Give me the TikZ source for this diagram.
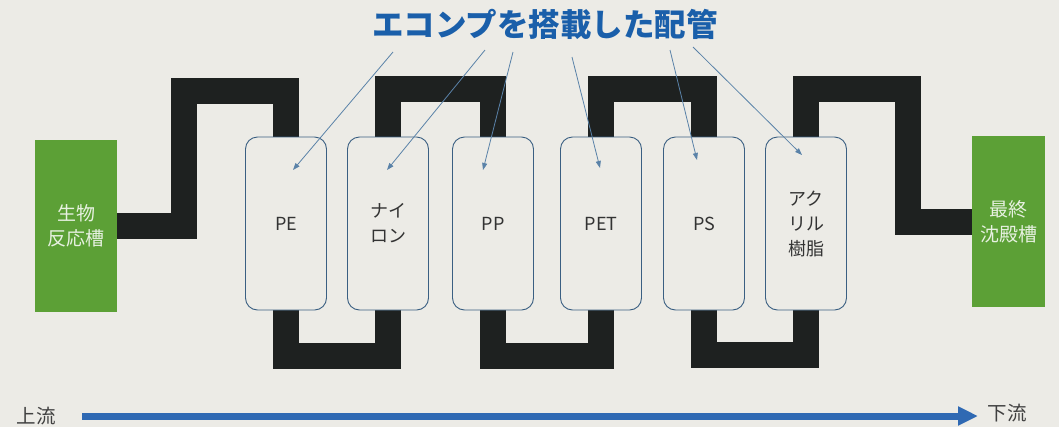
\documentclass[tikz,border=0pt]{standalone}
\usepackage{fontspec}
\setmainfont{Noto Sans CJK JP}
\usetikzlibrary{arrows.meta,calc}
\pgfdeclarelayer{bg}
\pgfdeclarelayer{pipes}
\pgfsetlayers{bg,pipes,main}
\definecolor{paper}{HTML}{ECEBE6}
\definecolor{pipec}{HTML}{1E2120}
\definecolor{greenc}{HTML}{5CA036}
\definecolor{boxline}{HTML}{3A5F82}
\definecolor{titleblue}{HTML}{1A5FAA}
\definecolor{leader}{HTML}{5A82A8}
\definecolor{flowblue}{HTML}{2F69B3}
\begin{document}
\begin{tikzpicture}[x=1bp,y=-1bp,
  tank/.style={fill=greenc, draw=none, inner sep=0pt, align=center,
    text=white!85!greenc, font=\fontsize{19bp}{25bp}\selectfont},
  col/.style={draw=boxline, line width=0.9bp, fill=paper, rounded corners=12bp,
    minimum width=81bp, minimum height=173bp, inner sep=0pt, align=center,
    text=black!80, font=\fontsize{18bp}{25bp}\selectfont},
  pipe/.style={draw=pipec, line width=26bp},
  leaderline/.style={draw=leader, line width=0.8bp, -{Triangle[length=7bp,width=5bp]}},
  flow/.style={draw=flowblue, line width=7bp, -{Triangle[length=20bp,width=18bp]}},
  flowtext/.style={text=black!75, font=\fontsize{19.5bp}{22bp}\selectfont, inner sep=0pt}
]
\useasboundingbox (0,0) rectangle (1059,427);
\begin{pgfonlayer}{bg}
\fill[paper] (0,0) rectangle (1059,427);
\end{pgfonlayer}

% tanks
\node[tank, minimum width=82bp, minimum height=172bp] (bio) at (76,226) {生物\\反応槽};
\node[tank, minimum width=73bp, minimum height=171bp] (fin) at (1008.5,221.5) {最終\\沈殿槽};

% columns
\node[col] (pe)  at (286,223.5) {PE};
\node[col] (ny)  at (388,223.5) {ナイ\\ロン};
\node[col] (pp)  at (493,223.5) {PP};
\node[col] (pet) at (601,223.5) {PET};
\node[col] (ps)  at (704,223.5) {PS};
\node[col] (ac)  at (806,223.5) {アク\\リル\\樹脂};

% pipes (behind the columns)
\begin{pgfonlayer}{pipes}
\draw[pipe] (bio.east) -| (184,91) -| (pe.north);
\draw[pipe] (pe.south) -- ++(0,46) -| (ny.south);
\draw[pipe] (ny.north) -- ++(0,-47.5) -| (pp.north);
\draw[pipe] (pp.south) -- ++(0,46) -| (pet.south);
\draw[pipe] (pet.north) -- ++(0,-48) -| (ps.north);
\draw[pipe] (ps.south) -- ++(0,45) -| (ac.south);
\draw[pipe] (ac.north) |- (907.5,89) |- (fin.west);
\end{pgfonlayer}

% title and leaders
\node[text=titleblue, font=\fontsize{31.5bp}{36bp}\selectfont\bfseries, inner sep=0pt]
  (title) at (545,24) {エコンプを搭載した配管};
\coordinate (s1) at (393,52);  \coordinate (e1) at (293,170);
\coordinate (s2) at (485,50);  \coordinate (e2) at (387,170);
\coordinate (s3) at (513,52);  \coordinate (e3) at (483,170);
\coordinate (s4) at (572,57);  \coordinate (e4) at (600,168);
\coordinate (s5) at (670,50);  \coordinate (e5) at (697,160);
\coordinate (s6) at (693,47);  \coordinate (e6) at (802,155);
\foreach \i in {1,...,6} \draw[leaderline] (s\i) -- (e\i);

% flow arrow
\node[flowtext] (up) at (36,416) {上流};
\node[flowtext] (down) at (1007,413) {下流};
\coordinate (fa) at (82,416);
\coordinate (fb) at (978,416);
\draw[flow] (fa) -- (fb);
\end{tikzpicture}
\end{document}
